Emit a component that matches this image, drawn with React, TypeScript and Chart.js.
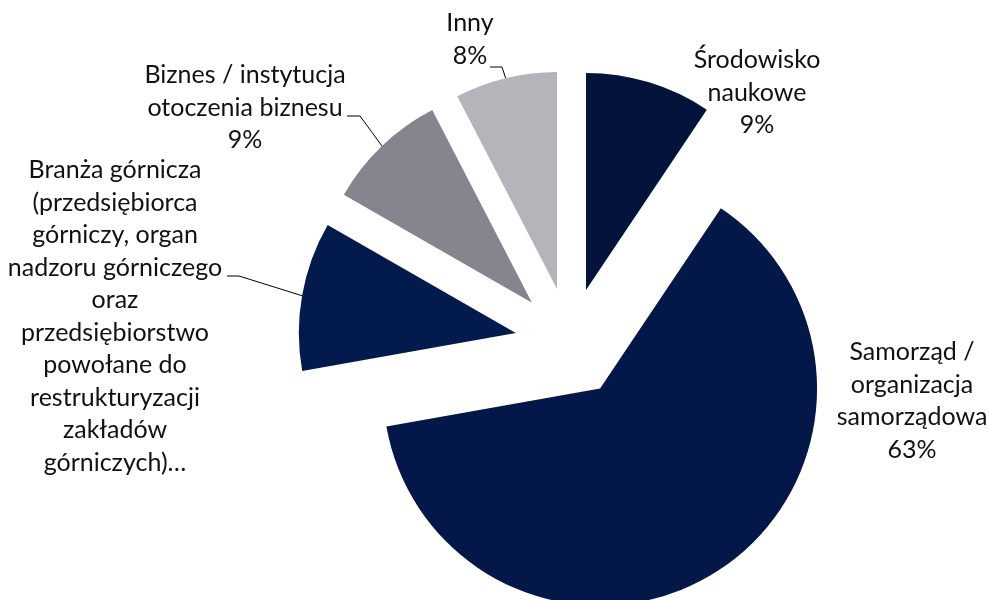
import React, { useEffect, useRef } from "react";
import { Chart, registerables } from "chart.js";

Chart.register(...registerables);

// ---- data ----
const categories = [
  "Środowisko naukowe",
  "Samorząd / organizacja samorządowa",
  "Branża górnicza (przedsiębiorca górniczy, organ nadzoru górniczego oraz przedsiębiorstwo powołane do restrukturyzacji zakładów górniczych)…",
  "Biznes / instytucja otoczenia biznesu",
  "Inny",
];
// shares (labels show rounded values)
const values = [9.4, 62.8, 11.1, 9.1, 7.6];
const labelLines = [
  ["Środowisko", "naukowe", "9%"],
  ["Samorząd /", "organizacja", "samorządowa", "63%"],
  [
    "Branża górnicza",
    "(przedsiębiorca",
    "górniczy, organ",
    "nadzoru górniczego",
    "oraz",
    "przedsiębiorstwo",
    "powołane do",
    "restrukturyzacji",
    "zakładów",
    "górniczych)…",
  ],
  ["Biznes / instytucja", "otoczenia biznesu", "9%"],
  ["Inny", "8%"],
];

// ---- style / layout ----
const colors = ["#03133B", "#031848", "#031A4C", "#84858F", "#B4B5BB"];
const explode = 55; // px each slice is pulled out
const sliceRadius = 217;
const FONT = "25px Lato";
const LINE_H = 32.5;
const TEXT_COLOR = "#111";
// label block anchor: centre x, centre y of first line; leader: start point and elbow
const labelLayout = [
  { x: 757, y: 60, leader: null },
  { x: 912, y: 352, leader: null },
  { x: 115, y: 170, leader: [227, 276, 239, 276] },
  { x: 245, y: 75, leader: [347, 116, 360, 116] },
  { x: 470, y: 23, leader: [490, 67, 502, 67] },
];

const total = values.reduce((a, b) => a + b, 0);
const fixOf = (v: number) => 1 - Math.sin(Math.min(Math.PI, (v / total) * Math.PI * 2));
// chart.js translates an arc by offset/4 and grows its radius by offset/4*fix
const offsets = values.map(() => 4 * explode);

const radiusPlugin = {
  id: "equalRadius",
  afterDatasetsUpdate(chart: any) {
    const meta = chart.getDatasetMeta(0);
    meta.data.forEach((el: any, i: number) => {
      const grow = explode * fixOf(values[i]);
      el.outerRadius = sliceRadius - grow;
      // compensate the angular trim chart.js applies to offset arcs
      const trim = grow / (2 * Math.PI * sliceRadius);
      el.startAngle -= trim;
      el.endAngle += trim;
    });
  },
};

const labelPlugin = {
  id: "sliceLabels",
  afterDraw(chart: any) {
    const ctx = chart.ctx;
    const meta = chart.getDatasetMeta(0);
    ctx.save();
    ctx.font = FONT;
    ctx.fillStyle = TEXT_COLOR;
    ctx.textAlign = "center";
    ctx.textBaseline = "middle";
    labelLines.forEach((lines, i) => {
      const L = labelLayout[i];
      lines.forEach((t, k) => ctx.fillText(t, L.x, L.y + k * LINE_H));
      if (L.leader) {
        const el = meta.data[i];
        const mid = (el.startAngle + el.endAngle) / 2;
        const dist = explode + sliceRadius;
        const ex = el.x + Math.cos(mid) * dist;
        const ey = el.y + Math.sin(mid) * dist;
        ctx.beginPath();
        ctx.strokeStyle = "#000";
        ctx.lineWidth = 1;
        ctx.moveTo(L.leader[0], L.leader[1]);
        ctx.lineTo(L.leader[2], L.leader[3]);
        ctx.lineTo(ex, ey);
        ctx.stroke();
      }
    });
    ctx.restore();
  },
};

export default function App() {
  const ref = useRef<HTMLCanvasElement | null>(null);
  useEffect(() => {
    if (!ref.current) return;
    const chart = new Chart(ref.current, {
      type: "pie",
      data: {
        labels: categories,
        datasets: [
          {
            data: values,
            backgroundColor: colors,
            borderWidth: 0,
            offset: offsets,
          } as any,
        ],
      },
      options: {
        responsive: true,
        maintainAspectRatio: false,
        animation: false,
        radius: 200,
        layout: { padding: { left: 151, top: 85, right: 0, bottom: 0 } },
        plugins: {
          legend: { display: false },
          tooltip: { enabled: false },
        },
      } as any,
      plugins: [radiusPlugin, labelPlugin],
    });
    return () => chart.destroy();
  }, []);
  return (
    <div style={{ position: "absolute", left: 0, top: 0, width: 989, height: 600, background: "#fff" }}>
      <canvas ref={ref} style={{ display: "block" }} />
    </div>
  );
}
